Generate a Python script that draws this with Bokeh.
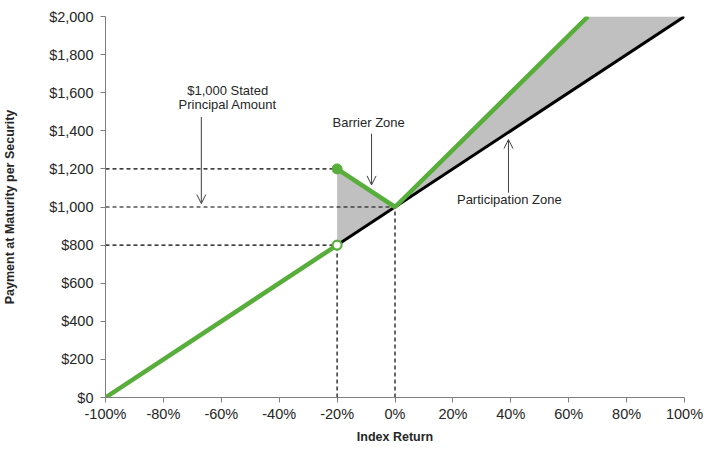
from bokeh.plotting import figure
from bokeh.models import (Range1d, FixedTicker, PrintfTickFormatter, NumeralTickFormatter,
                          Label, Arrow, OpenHead)
from bokeh.embed import file_html
from bokeh.resources import INLINE

# ---- data ----
x_ticks = [-100, -80, -60, -40, -20, 0, 20, 40, 60, 80, 100]
y_ticks = [0, 200, 400, 600, 800, 1000, 1200, 1400, 1600, 1800, 2000]

index_x = [-100, 100]            # underlying index payoff
index_y = [0, 2000]

sec_down_x = [-100, -20]         # security payoff below barrier
sec_down_y = [0, 800]
sec_up_x = [-20, 0, 66.67]       # security payoff above barrier
sec_up_y = [1200, 1000, 2000]

barrier_x = [-20, -20, 0]
barrier_y = [800, 1200, 1000]
particip_x = [0, 66.67, 100]
particip_y = [1000, 2000, 2000]

ref_h_x = [[-100, -20], [-100, 0], [-100, -20]]
ref_h_y = [[1200, 1200], [1000, 1000], [800, 800]]
ref_v_x = [[-20, -20], [0, 0]]
ref_v_y = [[0, 800], [0, 1000]]

filled_pt = (-20, 1200)
open_pt = (-20, 800)

GREEN = "#58ae3a"
GRAY = "#c0c0c0"
TXT = "#262626"
FONT = "Liberation Sans"

p = figure(width=704, height=446, output_backend="svg", toolbar_location=None,
           x_range=Range1d(-100, 100), y_range=Range1d(0, 2000),
           min_border_left=105, min_border_top=16, min_border_right=20, min_border_bottom=44)
p.outline_line_color = None
p.grid.visible = False
p.background_fill_color = "white"
p.border_fill_color = "white"

# fills
p.patch(barrier_x, barrier_y, fill_color=GRAY, line_color=None)
p.patch(particip_x, particip_y, fill_color=GRAY, line_color=None)

# reference dashed lines
p.multi_line(ref_h_x, ref_h_y, line_color="black", line_width=1.2, line_dash="4 3")
p.multi_line(ref_v_x, ref_v_y, line_color="black", line_width=1.2, line_dash="4 3")

# index line
p.line(index_x, index_y, line_color="black", line_width=3)

# security lines
p.line(sec_down_x, sec_down_y, line_color=GREEN, line_width=4.5)
p.line(sec_up_x, sec_up_y, line_color=GREEN, line_width=4.5)

p.scatter([filled_pt[0]], [filled_pt[1]], size=10, fill_color=GREEN, line_color=GREEN)
p.scatter([open_pt[0]], [open_pt[1]], size=9, fill_color="white", line_color=GREEN, line_width=2.2)

# annotations
def lab(x, y, t):
    p.add_layout(Label(x=x, y=y, text=t, text_align="center", text_baseline="middle",
                       text_font=FONT, text_font_size="13px", text_color=TXT))

lab(-57.8, 1612, "$1,000 Stated")
lab(-57.8, 1538, "Principal Amount")
lab(-9.1, 1442, "Barrier Zone")
lab(39.5, 1039, "Participation Zone")

def arr(x, y0, y1):
    p.add_layout(Arrow(x_start=x, y_start=y0, x_end=x, y_end=y1, line_color="#404040", line_width=1,
                       end=OpenHead(size=9, line_color="#404040", line_width=1)))

arr(-66.9, 1473, 1018)
arr(-8.1, 1385, 1116)
arr(39.2, 1075, 1354)

# axes
for ax in (p.xaxis[0], p.yaxis[0]):
    ax.axis_line_color = "#7f7f7f"
    ax.major_tick_line_color = "#7f7f7f"
    ax.major_tick_out = 5
    ax.major_tick_in = 0
    ax.minor_tick_line_color = None
    ax.major_label_text_font = FONT
    ax.major_label_text_font_size = "14.5px"
    ax.major_label_text_color = TXT
    ax.axis_label_text_font = FONT
    ax.axis_label_text_font_size = "12.5px"
    ax.axis_label_text_font_style = "bold"
    ax.axis_label_text_color = TXT

p.xaxis.ticker = FixedTicker(ticks=x_ticks)
p.xaxis.formatter = PrintfTickFormatter(format="%d%%")
p.xaxis.axis_label = "Index Return"
p.xaxis.major_label_standoff = 3
p.xaxis.axis_label_standoff = 5

p.yaxis.ticker = FixedTicker(ticks=y_ticks)
p.yaxis.formatter = NumeralTickFormatter(format="$0,0")
p.yaxis.axis_label = "Payment at Maturity per Security"
p.yaxis.major_label_standoff = 7
p.yaxis.axis_label_standoff = 29

open("out.html", "w").write(file_html(p, INLINE))
